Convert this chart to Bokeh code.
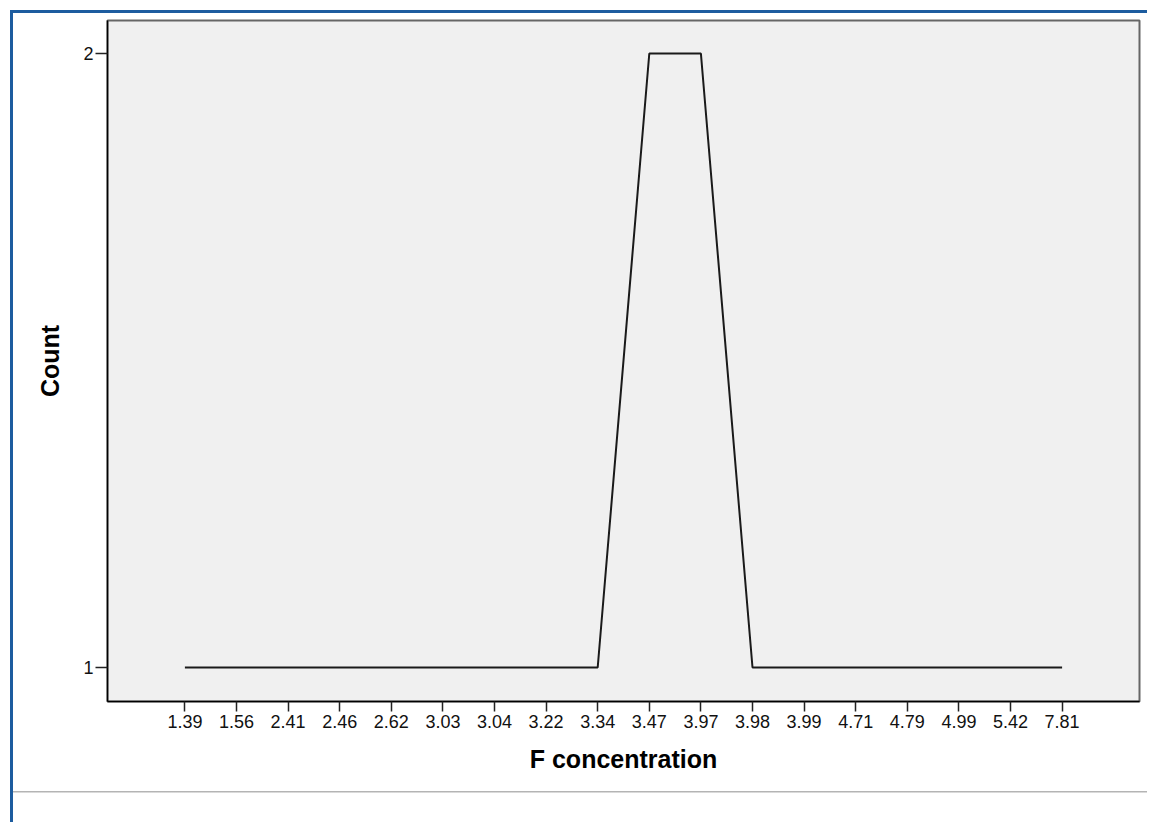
from bokeh.plotting import figure
from bokeh.models import FactorRange, Range1d, FixedTicker
from bokeh.embed import file_html
from bokeh.resources import INLINE

# Data
concentrations = ["1.39", "1.56", "2.41", "2.46", "2.62", "3.03", "3.04", "3.22", "3.34",
                  "3.47", "3.97", "3.98", "3.99", "4.71", "4.79", "4.99", "5.42", "7.81"]
counts = [1, 1, 1, 1, 1, 1, 1, 1, 1, 2, 2, 1, 1, 1, 1, 1, 1, 1]
y_ticks = [1, 2]

W, H = 1147, 822
FL, FT, FR, FB = 107, 20, 1139, 701
p = figure(width=W, height=H, output_backend="svg", toolbar_location=None,
           x_range=FactorRange(factors=concentrations, range_padding=1.0,
                               range_padding_units="absolute"),
           y_range=Range1d(0.9446, 2.0537),
           min_border_left=FL, min_border_right=W - FR,
           min_border_top=FT, min_border_bottom=H - FB)

p.background_fill_color = "#f0f0f0"
p.border_fill_color = None
p.outline_line_color = "#666666"
p.outline_line_width = 2
p.xgrid.visible = False
p.ygrid.visible = False

p.line(x=concentrations, y=counts, line_color="#1a1a1a", line_width=2)

font = "Liberation Sans"
for ax in (p.xaxis[0], p.yaxis[0]):
    ax.axis_line_color = "black"
    ax.axis_line_width = 1.5
    ax.major_tick_line_color = "#222222"
    ax.major_tick_line_width = 1.5
    ax.major_tick_in = 0
    ax.minor_tick_line_color = None
    ax.major_label_text_font = font
    ax.major_label_text_font_size = "18px"
    ax.major_label_text_color = "#111111"
    ax.axis_label_text_font = font
    ax.axis_label_text_font_style = "bold"
    ax.axis_label_text_font_size = "25px"
    ax.axis_label_text_color = "black"

p.yaxis[0].ticker = FixedTicker(ticks=y_ticks)
p.yaxis[0].major_tick_out = 12
p.xaxis[0].major_tick_out = 10
p.yaxis[0].major_label_standoff = 2
p.xaxis[0].major_label_standoff = 3
p.xaxis[0].axis_label = "F concentration"
p.yaxis[0].axis_label = "Count"
p.xaxis[0].axis_label_standoff = 14
p.yaxis[0].axis_label_standoff = 16

# page decorations (blue frame top & left, grey separator) drawn as CSS background
blue = "#1d5c9f"
p.styles = {
    "background-color": "white",
    "background-image": (f"linear-gradient({blue},{blue}), "
                         f"linear-gradient({blue},{blue}), "
                         "linear-gradient(#b4b4b4,#b4b4b4)"),
    "background-size": "calc(100% - 10px) 3px, 3px calc(100% - 10px), calc(100% - 13px) 1.5px",
    "background-position": "10px 10px, 10px 10px, 13px 791px",
    "background-repeat": "no-repeat",
}

open("out.html", "w").write(file_html(p, INLINE))
